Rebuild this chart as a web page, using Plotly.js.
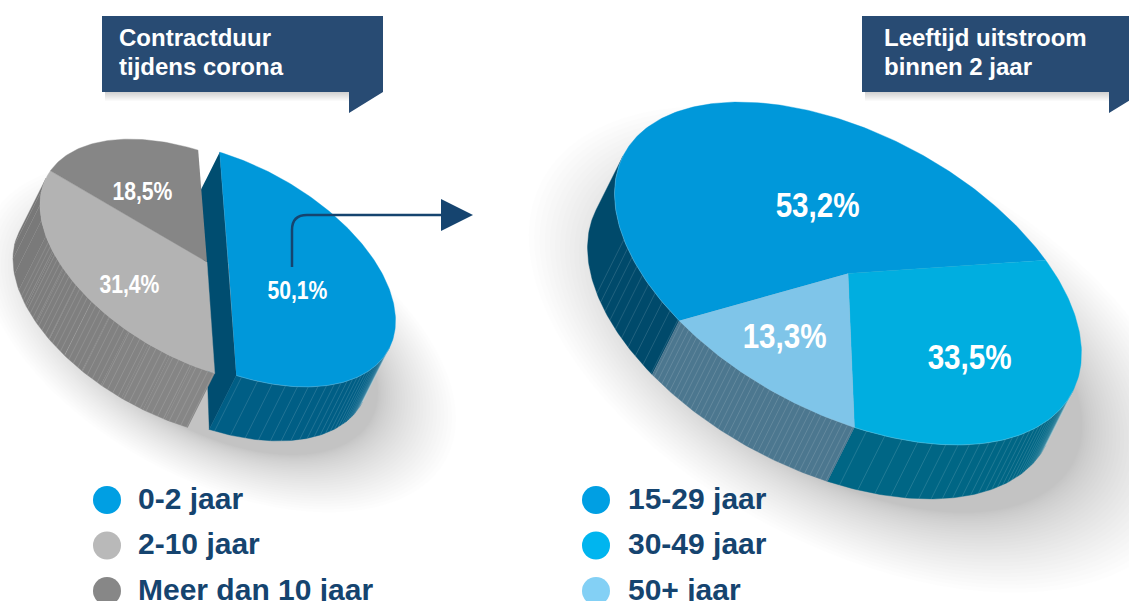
<!DOCTYPE html>
<html><head><meta charset="utf-8">
<script src="https://cdn.plot.ly/plotly-3.0.1.min.js"></script>
<style>html,body{margin:0;padding:0;background:#fff;overflow:hidden}#c{width:1129px;height:601px}</style>
</head><body><div id="c"></div>
<script>
// ---- data ----
const leftCategories = ['0-2 jaar', '2-10 jaar', 'Meer dan 10 jaar'];
const leftValues = [50.1, 31.4, 18.5];
const leftLabels = ['50,1%', '31,4%', '18,5%'];
const rightCategories = ['15-29 jaar', '30-49 jaar', '50+ jaar'];
const rightValues = [53.2, 33.5, 13.3];
const rightLabels = ['53,2%', '33,5%', '13,3%'];
const leftTitle = ['Contractduur', 'tijdens corona'];
const rightTitle = ['Leeftijd uitstroom', 'binnen 2 jaar'];

// ---- styles ----
const leftTop = ['#0098da', '#b3b3b3', '#868686'];
const leftWall = ['#005e85', '#868686', '#777777'];
const rightTop = ['#0098da', '#00aee0', '#7fc5e9'];
const rightWall = ['#004a6b', '#006685', '#4c778f'];
const leftDots = ['#009fe3', '#b9b9b9', '#878787'];
const rightDots = ['#009fe3', '#00b5ef', '#83d0f5'];
const navy = '#15446f', bannerColor = '#284b73';
const labelFont = '"Liberation Sans",Arial,sans-serif';
const textFont = '"Liberation Sans",Arial,sans-serif';

// ---- projection of a tilted disc ----
const PHI = 28 * Math.PI / 180, DX = -27, DY = 54;
function rimPoint(g, deg, k) {
  k = k === undefined ? 1 : k;
  const t = deg * Math.PI / 180;
  const u = g.a * k * Math.cos(t), v = g.b * k * Math.sin(t);
  return [g.cx + u * Math.cos(PHI) - v * Math.sin(PHI), g.cy + u * Math.sin(PHI) + v * Math.cos(PHI)];
}
function arcPoints(g, t0, t1) {
  const p = [], n = Math.max(2, Math.ceil(Math.abs(t1 - t0)));
  for (let i = 0; i <= n; i++) p.push(rimPoint(g, t0 + (t1 - t0) * i / n));
  return p;
}
function visibleRange(g) {
  const dx = DX * Math.cos(PHI) + DY * Math.sin(PHI), dy = -DX * Math.sin(PHI) + DY * Math.cos(PHI);
  const c = Math.atan2(dy / g.b, dx / g.a) * 180 / Math.PI;
  return [c - 90, c + 90];
}
const traces = [];
function poly(pts, color) {
  traces.push({type: 'scatter', mode: 'lines', x: pts.map(p => p[0]), y: pts.map(p => p[1]),
    fill: 'toself', fillcolor: color, line: {color: color, width: 0.4}, hoverinfo: 'skip'});
}
function halo(g, ox, oy) {
  const n = 30;
  for (let i = 0; i < n; i++) {
    const k = 0.95 + 0.47 * Math.pow(1 - i / n, 1.5), pts = [];
    for (let d = 0; d <= 360; d += 4) { const p = rimPoint(g, d, k); pts.push([p[0] + ox, p[1] + oy]); }
    traces.push({type: 'scatter', mode: 'none', x: pts.map(p => p[0]), y: pts.map(p => p[1]),
      fill: 'toself', fillcolor: 'rgba(60,50,50,0.0075)', hoverinfo: 'skip'});
  }
}
function hex(c) { return [1, 3, 5].map(i => parseInt(c.substr(i, 2), 16)); }
function mix(a, b, f) {
  const A = hex(a), B = hex(b);
  return 'rgb(' + A.map((v, i) => Math.round(v + (B[i] - v) * f)).join(',') + ')';
}
function wallFace(g, t0, t1, color, color2) {
  const [v0, v1] = visibleRange(g);
  const a = Math.max(t0, v0), b = Math.min(t1, v1);
  if (a >= b) return;
  const n = color2 ? 14 : 1;
  for (let i = 0; i < n; i++) {
    const s = a + (b - a) * i / n, e = a + (b - a) * (i + 1) / n;
    const up = arcPoints(g, s, e);
    const bot = up.slice().reverse().map(p => [p[0] + DX, p[1] + DY]);
    poly(up.concat(bot), color2 ? mix(color, color2, i / (n - 1)) : color);
  }
}
// stepGrow > 0: the hatch is dense next to the right-hand tangent and opens up away from it
function hatch(g, t0, t1, step, stopBefore, stepGrow) {
  const [v0, v1] = visibleRange(g);
  const x = [], y = [];
  let t = Math.max(t0, v0) + 0.4;
  while (t < Math.min(t1, v1 - stopBefore)) {
    const p = rimPoint(g, t);
    x.push(p[0], p[0] + DX, null); y.push(p[1], p[1] + DY, null);
    t += stepGrow ? step + (t - v0) * stepGrow : step;
  }
  traces.push({type: 'scatter', mode: 'lines', x, y, line: {color: 'rgba(255,255,255,0.22)', width: 0.6}, hoverinfo: 'skip'});
}
function topFace(g, t0, t1, color) {
  poly([[g.cx, g.cy]].concat(arcPoints(g, t0, t1)), color);
}
function rimLine(g, t0, t1) {
  const [v0, v1] = visibleRange(g);
  const p = arcPoints(g, Math.max(t0, v0), Math.min(t1, v1));
  traces.push({type: 'scatter', mode: 'lines', x: p.map(q => q[0]), y: p.map(q => q[1]),
    line: {color: 'rgba(255,255,255,0.30)', width: 0.6}, hoverinfo: 'skip'});
}
const spans = (vals, start) => { let t = start; return vals.map(v => { const s = t; t += v * 3.6; return [s, t]; }); };

// ---- left pie: blue slice pulled out of the grey ones ----
const gBlue = {cx: 228.5, cy: 264, a: 181.5, b: 100.3};
const gGrey = {cx: 207, cy: 262, a: 181.5, b: 100.3};
const L = spans(leftValues, -109.4);
halo({cx: 207, cy: 262, a: 181.5, b: 100.3}, 12, 76);

// cut face of the blue slice
const c0 = rimPoint(gBlue, L[0][0]), c1 = rimPoint(gBlue, L[0][1]);
poly([c0, c1, [c1[0] + DX, c1[1] + DY], [c0[0] + DX * 0.7, c0[1] + DY * 0.7]], '#004d70');
wallFace(gBlue, L[0][0], L[0][1], leftWall[0]);
hatch(gBlue, L[0][0], L[0][1], 0.7, 0, 0.075);
topFace(gBlue, L[0][0], L[0][1], leftTop[0]);
rimLine(gBlue, L[0][0], L[0][1]);

wallFace(gGrey, L[1][0], L[1][1], leftWall[1], leftWall[2]);
wallFace(gGrey, L[2][0], L[2][1], leftWall[2]);
hatch(gGrey, L[1][0], L[1][1], 2, 32);
topFace(gGrey, L[1][0], L[1][1], leftTop[1]);
topFace(gGrey, L[2][0], L[2][1], leftTop[2]);

// ---- right pie ----
const gR = {cx: 848, cy: 273.5, a: 253.8, b: 139.6};
const R = spans(rightValues, 120);
halo(gR, 12, 76);
// the 33.5 slice wraps through the -1 degree tangent, so shift it below it
const R2 = [R[0], [R[1][0] - 360, R[1][1] - 360], [R[2][0] - 360, R[2][1] - 360]];
wallFace(gR, R2[0][0], R2[0][1], rightWall[0]);
wallFace(gR, R2[1][0], R2[1][1], rightWall[1]);
wallFace(gR, R2[2][0], R2[2][1], rightWall[2]);
hatch(gR, R2[1][0], R2[1][1], 0.6, 0, 0.06);
hatch(gR, R2[2][0], R2[2][1], 1.3, 0);
hatch(gR, R2[0][0], R2[0][1], 3, 30);
topFace(gR, R[0][0], R[0][1], rightTop[0]);
topFace(gR, R[1][0], R[1][1], rightTop[1]);
topFace(gR, R[2][0], R[2][1], rightTop[2]);
rimLine(gR, R2[1][0], R2[1][1]);
rimLine(gR, R2[0][0], R2[0][1]);

// ---- legend dots ----
const legendY = [500, 545.5, 591];
traces.push({type: 'scatter', mode: 'markers', x: legendY.map(() => 107), y: legendY,
  marker: {size: 28, color: leftDots, line: {width: 0}}, hoverinfo: 'skip'});
traces.push({type: 'scatter', mode: 'markers', x: legendY.map(() => 596), y: legendY,
  marker: {size: 28, color: rightDots, line: {width: 0}}, hoverinfo: 'skip'});

// ---- banners, arrow ----
const shapes = [];
function bannerShapes(x0, x1, tailX) {
  for (let i = 1; i <= 9; i++) {
    shapes.push({type: 'rect', layer: 'above', x0: x0 + 3, x1: tailX, y0: 92, y1: 92 + i,
      fillcolor: 'rgba(40,40,40,0.022)', line: {width: 0}});
  }
  shapes.push({type: 'path', layer: 'above',
    path: `M${x0},16 L${x1},16 L${x1},92 L${tailX + 34},92 L${tailX},113 L${tailX},92 L${x0},92 Z`,
    fillcolor: bannerColor, line: {width: 0}});
}
bannerShapes(102, 383, 349);
bannerShapes(862, 1160, 1109);
shapes.push({type: 'path', layer: 'above', path: 'M292,267 L292,230 Q292,215 307,215 L445,215',
  line: {color: navy, width: 2.5}});
shapes.push({type: 'path', layer: 'above', path: 'M441,199 L473,215 L441,231 Z', fillcolor: navy, line: {width: 0}});

// ---- text ----
const ann = [];
function txt(text, x, y, size, color, family, anchor) {
  ann.push({text, x, y, xref: 'x', yref: 'y', showarrow: false, xanchor: anchor || 'left', yanchor: 'middle',
    font: {size, color, family, weight: 700}, borderpad: 0});
}
leftTitle.forEach((s, i) => txt(s, 118, 37 + i * 29, 24, '#ffffff', textFont));
rightTitle.forEach((s, i) => txt(s, 883, 37 + i * 29, 24, '#ffffff', textFont));
leftCategories.forEach((s, i) => txt(s, 137, legendY[i] - 2, 30, navy, textFont));
rightCategories.forEach((s, i) => txt(s, 627, legendY[i] - 2, 30, navy, textFont));
const leftLabelPos = [[297, 290], [129, 284], [142, 191]];
const rightLabelPos = [[817, 204], [969, 356], [784, 335]];
leftLabels.forEach((s, i) => txt(s, leftLabelPos[i][0], leftLabelPos[i][1], 25, '#ffffff', labelFont, 'center'));
rightLabels.forEach((s, i) => txt(s, rightLabelPos[i][0], rightLabelPos[i][1], 35, '#ffffff', labelFont, 'center'));

Plotly.newPlot('c', traces, {
  width: 1129, height: 601, margin: {l: 0, r: 0, t: 0, b: 0},
  paper_bgcolor: '#ffffff', plot_bgcolor: '#ffffff', showlegend: false, hovermode: false,
  xaxis: {range: [0, 1129], visible: false, fixedrange: true},
  yaxis: {range: [601, 0], visible: false, fixedrange: true},
  shapes, annotations: ann
}, {displayModeBar: false, staticPlot: true}).then(() => {
  // the percentage labels are set in a condensed cut: squeeze the real text to that width
  document.querySelectorAll('#c .annotation-text').forEach(el => {
    const s = el.textContent;
    const w = leftLabels.includes(s) ? 60 : rightLabels.includes(s) ? 84 : 0;
    if (w) { el.setAttribute('textLength', w); el.setAttribute('lengthAdjust', 'spacingAndGlyphs'); }
  });
});
</script></body></html>
